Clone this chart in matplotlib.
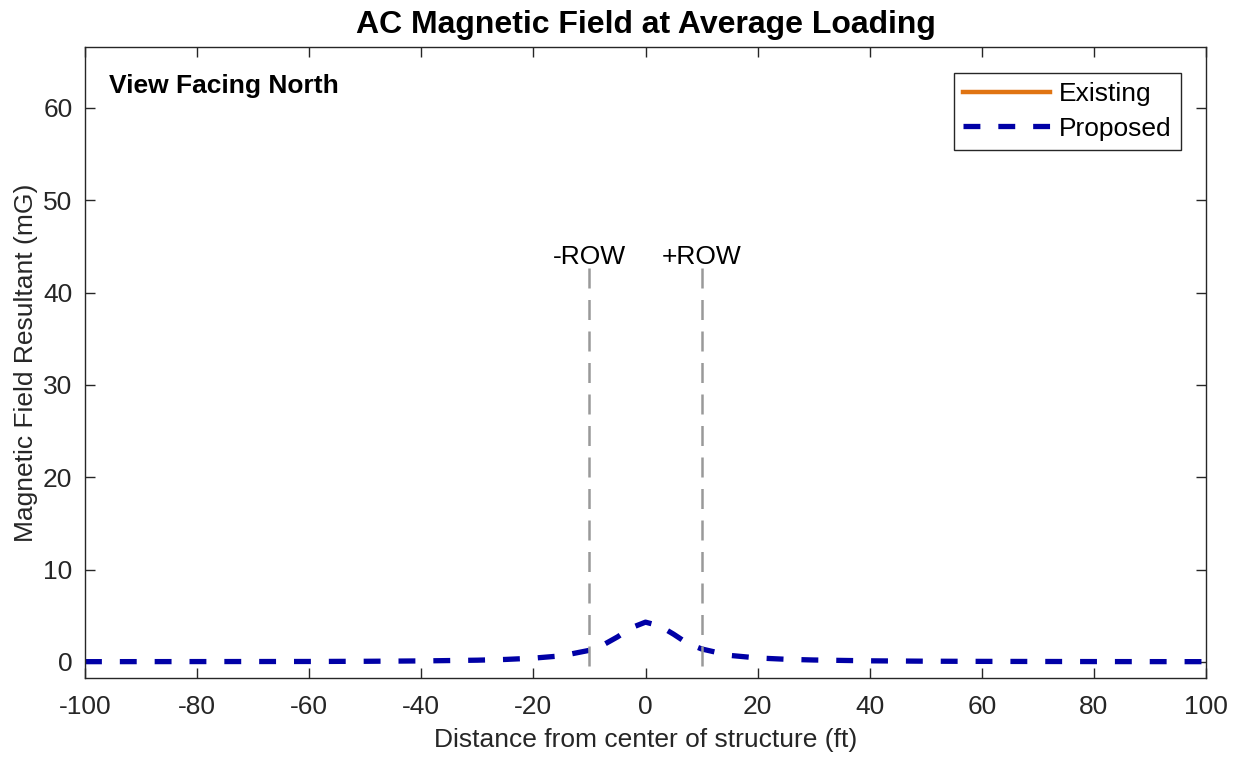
import numpy as np
import matplotlib.pyplot as plt

plt.rcParams["font.family"] = ["Liberation Sans", "DejaVu Sans"]
plt.rcParams["axes.unicode_minus"] = False

# distance from structure center (ft) and field values (mG)
dist_ft = [-100, -80, -60, -50, -40, -30, -25, -20, -15, -10, -7.5, -5, -2.5,
           0, 2.5, 5, 7.5, 10, 15, 20, 25, 30, 40, 50, 60, 80, 100]
proposed_mg = [0.02, 0.03, 0.04, 0.06, 0.10, 0.18, 0.26, 0.40, 0.65, 1.25, 1.85, 2.7, 3.7,
               4.3, 3.9, 3.0, 2.0, 1.4, 0.7, 0.42, 0.28, 0.2, 0.11, 0.07, 0.05, 0.03, 0.02]
existing_dist = []
existing_mg = []

row_edges = [-10, 10]
row_labels = ["-ROW", "+ROW"]
row_top = 42.7

xticks = list(range(-100, 101, 20))
yticks = list(range(0, 61, 10))

fig = plt.figure(figsize=(12.45, 7.59), dpi=100)
ax = fig.add_axes([85 / 1245, 1 - 678 / 759, 1121 / 1245, 631 / 759])

ax.plot(existing_dist, existing_mg, color="#E07412", lw=3.2, label="Existing")
ax.plot(dist_ft, proposed_mg, color="#0000A6", lw=3.8, ls=(0, (3.2, 3.4)),
        label="Proposed")

# ROW markers, drawn top-down so the dash pattern starts at the top
for xr, lab in zip(row_edges, row_labels):
    ax.plot([xr, xr], [row_top, -5], color="#999999", lw=1.8, ls=(0, (8, 4.6)))
    ax.text(xr, row_top - 0.1, lab, ha="center", va="bottom", fontsize=19)

ax.set_xlim(-100, 100)
ax.set_ylim(-1.75, 66.6)
ax.set_xticks(xticks)
ax.set_yticks(yticks)
ax.tick_params(direction="in", top=True, right=True,
               labelsize=19, colors="#262626", length=7, width=1)
ax.tick_params(axis="x", pad=12)
ax.tick_params(axis="y", pad=9)
for s in ax.spines.values():
    s.set_color("#262626")
    s.set_linewidth(1)

ax.set_xlabel("Distance from center of structure (ft)", fontsize=19, color="#262626", labelpad=7)
ax.set_ylabel("Magnetic Field Resultant (mG)", fontsize=19, color="#262626", labelpad=4)
ax.set_title("AC Magnetic Field at Average Loading", fontsize=23, fontweight="bold", pad=10)

ax.text(0.021, 0.957, "View Facing North", transform=ax.transAxes, fontsize=19,
        fontweight="bold", va="top", ha="left")

leg = ax.legend(loc="upper right", bbox_to_anchor=(0.9777, 0.959), fontsize=19,
                fancybox=False, edgecolor="#262626", framealpha=1,
                handlelength=3.3, borderpad=0.35, labelspacing=0.4, handletextpad=0.35,
                borderaxespad=0)
leg.get_frame().set_linewidth(1)

fig.savefig("out.png", dpi=100)
